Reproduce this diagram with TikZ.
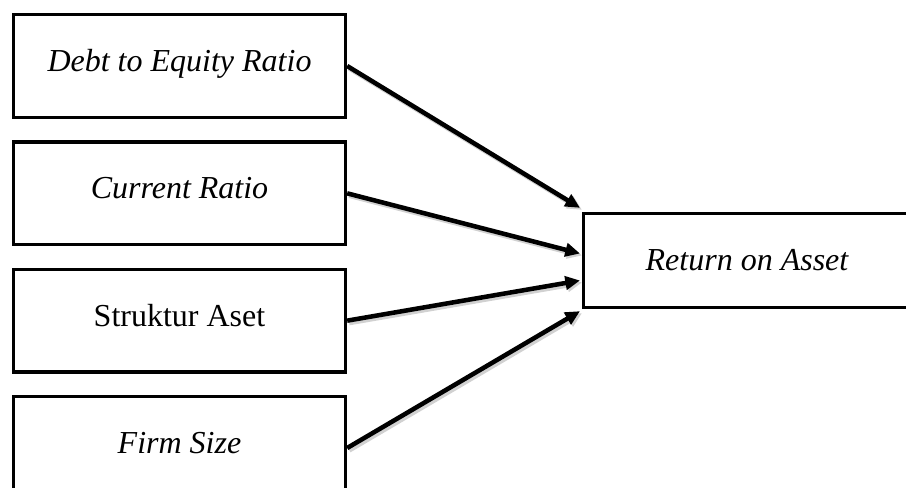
\documentclass[tikz,border=0pt]{standalone}
\usepackage{fontspec}
\setmainfont{Liberation Serif}
\usetikzlibrary{positioning,calc}
\usetikzlibrary{arrows.meta}

\begin{document}
\begin{tikzpicture}[x=0.75pt,y=-0.75pt,
         varbox/.style = {draw, line width=2.5pt, minimum width=249pt,
         minimum height=77pt, inner sep=0pt, text depth=8pt,
         font=\fontsize{24}{28}\selectfont},
         roabox/.style = {draw, line width=2.5pt, minimum width=245pt,
         minimum height=70.5pt, inner sep=0pt,
         font=\fontsize{24}{28}\selectfont},
         effect/.style = {line width=3.4pt, -{Triangle[length=11pt,width=10pt]},
         preaction={draw=black!18, line width=4pt,
         transform canvas={xshift=1.5pt,yshift=-1.5pt}}}
]
   \useasboundingbox (0,0) rectangle (906,488);
   \clip (0,0) rectangle (906,488);

   % independent variables
   \node[varbox] (der) at (179.5,66) {\itshape Debt to Equity Ratio};
   \node[varbox, below=16pt of der] (cr) {\itshape Current Ratio};
   \node[varbox, below=16pt of cr] (sa) {Struktur Aset};
   \node[varbox, below=16pt of sa] (fs) {\itshape Firm Size};

   % dependent variable
   \node[roabox] (roa) at (747,260.5) {\itshape Return on Asset};

   \draw[effect] (der.east) -- ($(roa.north west)+(-2,-4)$);
   \draw[effect] (cr.east) -- ($(roa.west)+(-2,-7)$);
   \draw[effect] (sa.east) -- ($(roa.west)+(-2,20)$);
   \draw[effect] (fs.east) -- ($(roa.south west)+(-2,2)$);
\end{tikzpicture}
\end{document}
